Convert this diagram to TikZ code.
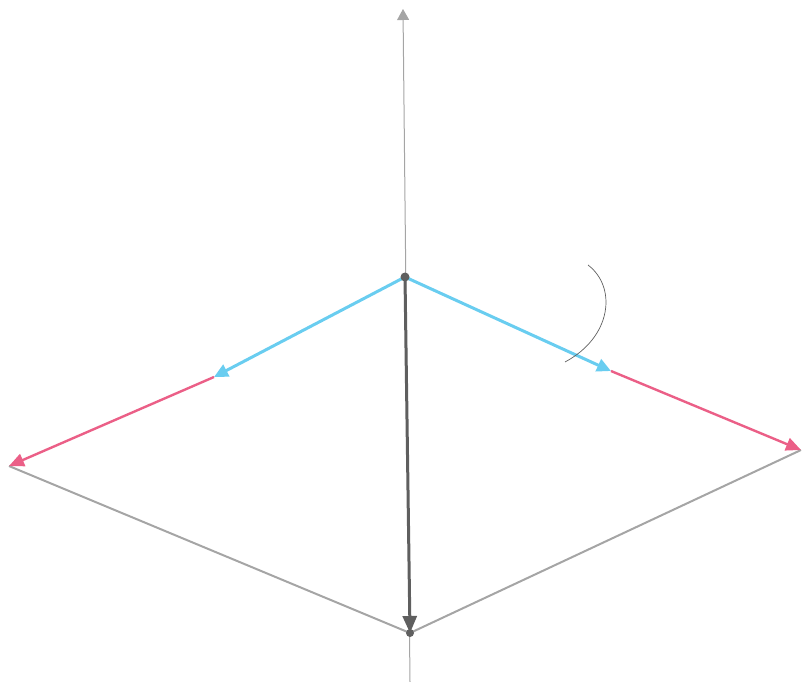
\documentclass[tikz,border=0pt]{standalone}
\usetikzlibrary{arrows.meta}
\definecolor{skyc}{RGB}{105,205,240}
\definecolor{pinkc}{RGB}{235,95,135}
\definecolor{axisg}{RGB}{165,165,165}
\definecolor{darkg}{RGB}{95,95,95}
\tikzset{
  axis/.style={draw=axisg, line width=1pt},
  edge/.style={draw=axisg, line width=2pt},
  cyanvec/.style={draw=skyc, line width=3pt, -{Triangle[length=14pt,width=13pt]}},
  pinkvec/.style={draw=pinkc, line width=2.4pt, -{Triangle[length=15pt,width=13pt]}},
  weight/.style={draw=darkg, line width=3pt, -{Triangle[length=17pt,width=14pt]}},
  dotp/.style={circle, fill=darkg, inner sep=0pt, minimum size=9pt}
}
\begin{document}
\begin{tikzpicture}[x=1pt,y=-1pt]
\useasboundingbox (0,0) rectangle (803,682);
\coordinate (top) at (403,9);
\coordinate (bot) at (410,682);
\coordinate (O) at (405,277);
\coordinate (cl) at (214,377);
\coordinate (pl) at (9,466);
\coordinate (cr) at (611,371);
\coordinate (pr) at (801,450);
\coordinate (B) at (410,633);
\coordinate (a1) at (588,265);
\coordinate (a2) at (565,362);
% axis
\draw[axis, -{Triangle[length=11pt,width=12pt]}] (bot) -- (top);
% rhombus lower edges
\draw[edge] (pl) -- (B);
\draw[edge] (pr) -- (B);
% pink extensions
\draw[pinkvec] (cl) -- (pl);
\draw[pinkvec] (cr) -- (pr);
% cyan vectors
\draw[cyanvec] (O) -- (cl);
\draw[cyanvec] (O) -- (cr);
% weight
\draw[weight] (O) -- (B);
% angle arc
\draw[darkg, line width=0.7pt] (a1) .. controls (617,287) and (612,337) .. (a2);
\node[dotp] (Od) at (O) {};
\node[dotp, minimum size=8pt] (Bd) at (B) {};
\end{tikzpicture}
\end{document}
